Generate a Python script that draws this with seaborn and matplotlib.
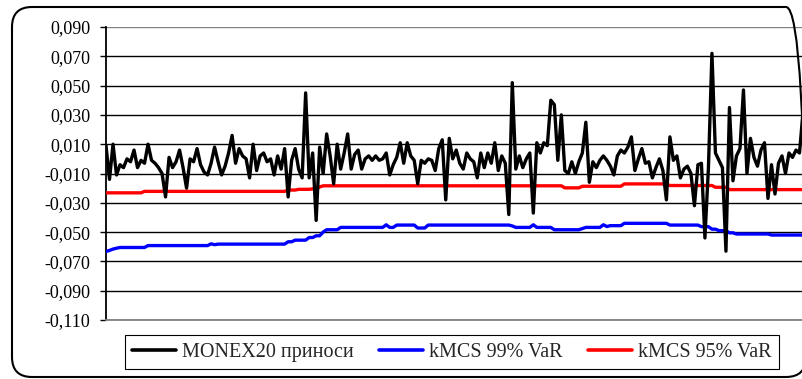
import numpy as np
import pandas as pd
import matplotlib
matplotlib.use("Agg")
import matplotlib.pyplot as plt
import seaborn as sns
from matplotlib.patches import FancyBboxPatch
from matplotlib.transforms import IdentityTransform
from matplotlib.ticker import FuncFormatter

# Daily MONEX20 returns, in per mille
monex_returns = [
    9, -14, 10, -11, -4, -6, 0, -2, 6, -6,
    -1, -3, 10, -1, -3, -6, -10, -26, 1, -6,
    -2, 6, -6, -20, 0, -2, 7, -4, -9, -11,
    -3, 8, -2, -11, -5, 4, 16, -3, 7, 2,
    0, -13, 10, -8, 2, 4, -2, 0, -11, 2,
    -7, 7, -26, -1, 7, -7, -13, 45, -13, 4,
    -42, 8, -10, 17, 2, -17, 10, -7, 4, 17,
    -7, 3, 6, -7, 0, 2, -1, 2, -1, 0,
    4, -11, -4, 1, 11, -3, 11, 2, -1, -17,
    -1, -3, 0, -1, -8, 7, 13, -28, 14, 0,
    6, -3, -7, 4, 0, -2, -13, 4, -6, 4,
    -3, 11, -8, 2, -3, -38, 52, -7, 2, -6,
    0, 4, -37, 11, 4, 11, 9, 40, 37, -1,
    30, -8, -10, -2, -10, -2, 4, 25, -16, -2,
    -6, -1, 2, -1, -5, -11, 2, 6, 4, 8,
    15, -8, 0, 7, -3, -2, -13, -6, 0, -8,
    -28, 15, -1, 2, -13, -7, -5, -10, -32, -4,
    -3, -54, -6, 72, 4, -1, -6, -63, 35, -15,
    2, 7, 47, -10, 14, 1, -5, 6, 11, -27,
    -4, -24, -3, 2, -10, 4, 1, 6, 4, 32,
]

# kMCS 99% VaR estimates, in per mille
var99 = [
    -63.2, -62.5, -61.6, -61.0, -60.5, -60.5, -60.5, -60.5, -60.5, -60.5,
    -60.5, -60.5, -59.2, -59.2, -59.2, -59.2, -59.2, -59.2, -59.2, -59.2,
    -59.2, -59.2, -59.2, -59.2, -59.2, -59.2, -59.2, -59.2, -59.2, -59.2,
    -58.0, -58.6, -58.2, -58.2, -58.2, -58.2, -58.2, -58.2, -58.2, -58.2,
    -58.2, -58.2, -58.2, -58.2, -58.2, -58.2, -58.2, -58.2, -58.2, -58.2,
    -58.2, -58.2, -56.6, -56.6, -55.5, -55.5, -55.5, -55.5, -53.7, -53.7,
    -52.5, -52.5, -50.0, -48.4, -48.4, -48.4, -48.4, -46.8, -46.8, -46.8,
    -46.8, -46.8, -46.8, -46.8, -46.8, -46.8, -46.8, -46.8, -46.8, -46.8,
    -45.0, -46.8, -46.8, -45.2, -45.2, -45.2, -45.2, -45.2, -45.2, -47.2,
    -47.2, -47.2, -45.2, -45.2, -45.2, -45.2, -45.2, -45.2, -45.2, -45.2,
    -45.2, -45.2, -45.2, -45.2, -45.2, -45.2, -45.2, -45.2, -45.2, -45.2,
    -45.2, -45.2, -45.2, -45.2, -45.2, -45.2, -45.8, -46.8, -46.8, -46.8,
    -46.8, -46.8, -45.0, -46.8, -46.8, -46.8, -46.8, -46.8, -48.4, -48.4,
    -48.4, -48.4, -48.4, -48.4, -48.4, -48.4, -47.6, -46.8, -46.8, -46.8,
    -46.8, -46.8, -45.0, -46.2, -45.6, -45.6, -45.6, -45.6, -44.0, -44.0,
    -44.0, -44.0, -44.0, -44.0, -44.0, -44.0, -44.0, -44.0, -44.0, -44.0,
    -44.0, -45.2, -45.2, -45.2, -45.2, -45.2, -45.2, -45.2, -45.2, -45.2,
    -46.3, -46.3, -46.3, -48.0, -48.0, -49.0, -49.0, -49.0, -50.5, -50.5,
    -51.3, -51.3, -51.3, -51.3, -51.3, -51.3, -51.3, -51.3, -51.3, -51.3,
    -52.0, -52.0, -52.0, -52.0, -52.0, -52.0, -52.0, -52.0, -52.0, -52.0,
]

# kMCS 95% VaR estimates, in per mille
var95 = [
    -23.2, -23.2, -23.2, -23.2, -23.2, -23.2, -23.2, -23.2, -23.2, -23.2,
    -23.2, -22.2, -22.2, -22.2, -22.2, -22.2, -22.2, -22.2, -22.2, -22.2,
    -22.2, -22.2, -22.2, -22.2, -22.2, -22.2, -22.2, -22.2, -22.2, -22.2,
    -22.2, -22.2, -22.2, -22.2, -22.2, -22.2, -22.2, -22.2, -22.2, -22.2,
    -22.2, -22.2, -22.2, -22.2, -22.2, -22.2, -22.2, -22.2, -22.2, -22.2,
    -22.2, -22.2, -21.3, -21.3, -21.3, -20.8, -20.8, -20.8, -20.8, -20.5,
    -20.5, -19.2, -18.4, -18.4, -18.4, -18.4, -18.4, -18.4, -18.4, -18.4,
    -18.4, -18.4, -18.4, -18.4, -18.4, -18.4, -18.4, -18.4, -18.4, -18.4,
    -18.4, -18.4, -18.4, -18.4, -18.4, -18.4, -18.4, -18.4, -18.4, -18.4,
    -18.4, -18.4, -18.4, -18.4, -18.4, -18.4, -18.4, -18.4, -18.4, -18.4,
    -18.4, -18.4, -18.4, -18.4, -18.4, -18.4, -18.4, -18.4, -18.4, -18.4,
    -18.4, -18.4, -18.4, -18.4, -18.4, -18.4, -18.4, -18.4, -18.4, -18.4,
    -18.4, -18.4, -18.4, -18.4, -18.4, -18.4, -18.4, -18.4, -18.4, -18.4,
    -18.4, -19.8, -19.8, -19.8, -19.8, -19.8, -18.7, -18.7, -18.7, -18.7,
    -18.7, -18.7, -18.7, -18.7, -18.7, -18.7, -18.7, -18.7, -17.1, -17.1,
    -17.1, -17.1, -17.1, -17.1, -17.1, -17.1, -17.1, -17.1, -17.1, -17.1,
    -17.1, -18.2, -18.2, -18.2, -18.2, -18.2, -18.2, -18.2, -18.2, -18.2,
    -18.2, -18.2, -18.2, -18.2, -19.4, -19.4, -19.4, -19.4, -21.0, -21.0,
    -21.0, -21.0, -21.0, -21.0, -21.0, -21.0, -21.0, -21.0, -21.0, -21.0,
    -21.0, -21.0, -21.0, -21.0, -21.0, -21.0, -21.0, -21.0, -21.0, -21.0,
]

y_ticks = [0.090, 0.070, 0.050, 0.030, 0.010, -0.010, -0.030, -0.050, -0.070, -0.090, -0.110]
series_labels = ["MONEX20 приноси", "kMCS 99% VaR", "kMCS 95% VaR"]
series_colors = ["#000000", "#0000FF", "#FF0000"]

sns.set_style("white")
plt.rcParams["font.family"] = ["Liberation Serif", "DejaVu Serif"]

W, H = 803, 379
fig = plt.figure(figsize=(W / 100, H / 100), dpi=100)
fig.patch.set_facecolor("white")
ax = fig.add_axes([106 / W, 1 - 320 / H, 697 / W, 293 / H])

df = pd.DataFrame({
    "day": np.arange(len(monex_returns)),
    "ret": np.array(monex_returns) / 1000.0,
    "v99": np.array(var99) / 1000.0,
    "v95": np.array(var95) / 1000.0,
})

sns.lineplot(data=df, x="day", y="v99", ax=ax, color=series_colors[1], lw=2.4,
             label=series_labels[1], zorder=3)
sns.lineplot(data=df, x="day", y="v95", ax=ax, color=series_colors[2], lw=2.4,
             label=series_labels[2], zorder=3)
sns.lineplot(data=df, x="day", y="ret", ax=ax, color=series_colors[0], lw=2.4,
             label=series_labels[0], zorder=4)

ax.set_xlim(0, len(monex_returns) - 1)
ax.set_ylim(min(y_ticks), max(y_ticks))
ax.set_yticks(y_ticks)
ax.yaxis.set_major_formatter(FuncFormatter(lambda v, _: f"{v:.3f}".replace(".", ",")))
ax.set_xticks([])
ax.set_xlabel("")
ax.set_ylabel("")

ax.yaxis.grid(True, color="black", lw=1.0, zorder=1)
for tick_val, gl in zip(ax.get_yticks(), ax.get_ygridlines()):
    if abs(tick_val - max(y_ticks)) < 1e-9:
        gl.set_color("#808080")
ax.set_axisbelow(True)

for side in ("top", "right"):
    ax.spines[side].set_visible(False)
ax.spines["left"].set_color("black")
ax.spines["left"].set_linewidth(1.3)
ax.spines["bottom"].set_color("#808080")
ax.spines["bottom"].set_linewidth(1.3)
ax.tick_params(axis="y", direction="out", length=4.3, width=1.0, color="black",
               pad=7, labelsize=13, labelcolor="black", left=True)

handles, labels = ax.get_legend_handles_labels()
order = [labels.index(lbl) for lbl in series_labels]
leg = ax.legend([handles[i] for i in order], [labels[i] for i in order],
                loc="center", bbox_to_anchor=(125 / W, 1 - 372 / H, 654 / W, 40 / H),
                bbox_transform=fig.transFigure, mode="expand", ncol=3,
                frameon=True, fancybox=False, edgecolor="black", framealpha=1,
                fontsize=14.5, handlelength=2.2, handletextpad=0.3,
                borderaxespad=0, borderpad=0.35, columnspacing=1.0)
leg.get_frame().set_linewidth(0.8)
for line in leg.get_lines():
    line.set_linewidth(2.6)

# Rounded outer chart frame, in pixel units
frame = FancyBboxPatch((12, 2), 794, 370, boxstyle="round,pad=0,rounding_size=20",
                       transform=IdentityTransform(), fill=False, ec="black", lw=1.5)
fig.add_artist(frame)

fig.savefig("out.png", dpi=100)
